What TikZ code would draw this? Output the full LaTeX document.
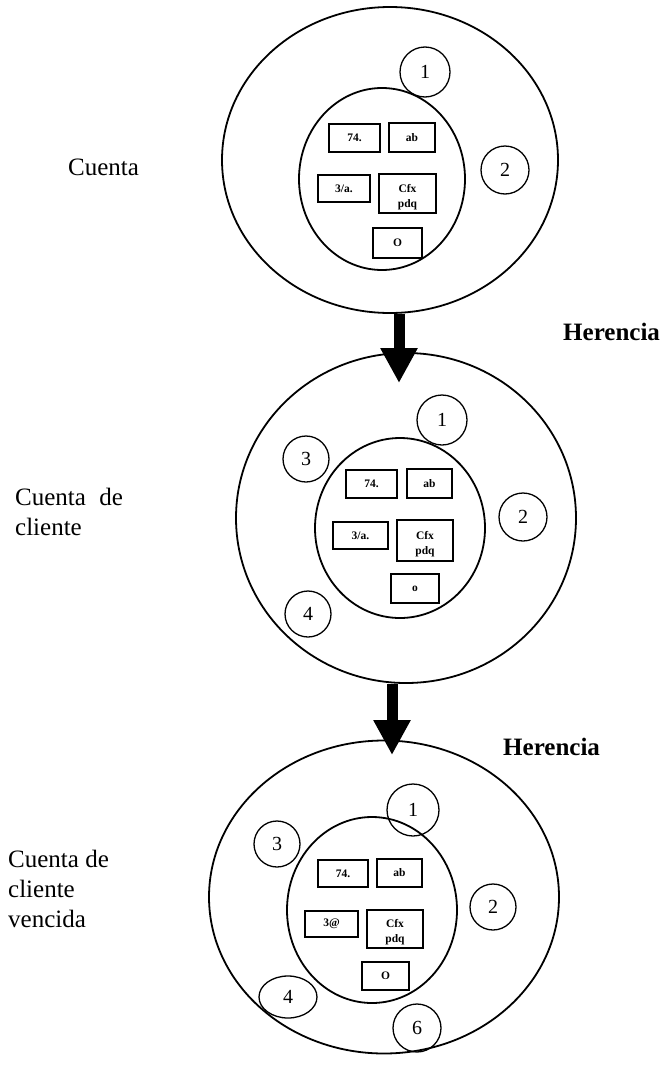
\documentclass[tikz,border=0pt]{standalone}
\usepackage{fontspec}
\setmainfont{Liberation Serif}
\usetikzlibrary{shapes.geometric,arrows.meta}
\begin{document}
\begin{tikzpicture}[x=1pt,y=-1pt,
  ring/.style={draw, ellipse, line width=1.8pt, inner sep=0pt},
  num/.style={draw, line width=1.3pt, inner sep=0pt, font=\fontsize{20}{24}\selectfont},
  numc/.style={num, circle},
  nume/.style={num, ellipse},
  cell/.style={draw, rectangle, line width=2pt, inner sep=0pt, font=\fontsize{11.5}{12}\selectfont\bfseries, align=center},
  lbl/.style={inner sep=0pt, font=\fontsize{25}{30}\selectfont, align=left},
  her/.style={inner sep=0pt, font=\fontsize{25}{30}\selectfont\bfseries},
  inh/.style={line width=11pt, -{Triangle[width=35pt,length=35pt]}}
]
\fill[white] (0,0) rectangle (665,1071);
\useasboundingbox (0,0) rectangle (665,1071);

% ---------- group 1 ----------
\node[ring, minimum width=336pt, minimum height=306pt] (c1) at (390,160) {};
\node[ring, minimum width=166pt, minimum height=182pt] (i1) at (382,179) {};
\node[numc, minimum size=50pt] (c1n1) at (425,72) {1};
\node[numc, minimum size=48pt] (c1n2) at (505,170) {2};
\node[cell, minimum width=51pt, minimum height=28pt] (c1b1) at (354.5,138) {74.};
\node[cell, minimum width=46pt, minimum height=29pt] (c1b2) at (412,137.5) {ab};
\node[cell, minimum width=52pt, minimum height=27pt] (c1b3) at (344,188.5) {3/a.};
\node[cell, minimum width=57pt, minimum height=39pt] (c1b4) at (407.5,193.5) {\rule{0pt}{15pt}Cfx\\[3pt]pdq};
\node[cell, minimum width=49pt, minimum height=30pt] (c1b5) at (397.5,243) {O};
\node[lbl, anchor=base west] (t1) at (68,175) {Cuenta};

% ---------- group 2 ----------
\node[ring, minimum width=340pt, minimum height=330pt] (c2) at (406,518) {};
\node[ring, minimum width=170pt, minimum height=180pt] (i2) at (400,528) {};
\node[numc, minimum size=50pt] (c2n1) at (442,420) {1};
\node[numc, minimum size=46pt] (c2n3) at (306,459) {3};
\node[numc, minimum size=48pt] (c2n2) at (523,517) {2};
\node[numc, minimum size=46pt] (c2n4) at (308,614) {4};
\node[cell, minimum width=51pt, minimum height=28pt] (c2b1) at (371.5,484) {74.};
\node[cell, minimum width=45pt, minimum height=29pt] (c2b2) at (429.5,483.5) {ab};
\node[cell, minimum width=55pt, minimum height=27pt] (c2b3) at (360.5,535.5) {3/a.};
\node[cell, minimum width=56pt, minimum height=41pt] (c2b4) at (425,540.5) {\rule{0pt}{15pt}Cfx\\[3pt]pdq};
\node[cell, minimum width=48pt, minimum height=29pt] (c2b5) at (415,588.5) {o};
\node[lbl, anchor=north west] (t2) at (15,488) {Cuenta\hspace{7pt} de\\cliente};

% ---------- group 3 ----------
\node[ring, minimum width=350pt, minimum height=313pt] (c3) at (384,897) {};
\node[ring, minimum width=170pt, minimum height=186pt] (i3) at (372,910) {};
\node[numc, minimum size=52pt] (c3n1) at (413,810) {1};
\node[numc, minimum size=46pt] (c3n3) at (277,844) {3};
\node[numc, minimum size=46pt] (c3n2) at (493,907) {2};
\node[nume, minimum width=58pt, minimum height=42pt] (c3n4) at (288,997) {4};
\node[numc, minimum size=48pt] (c3n6) at (417,1028) {6};
\node[cell, minimum width=50pt, minimum height=27pt] (c3b1) at (343,873.5) {74.};
\node[cell, minimum width=45pt, minimum height=28pt] (c3b2) at (399.5,873) {ab};
\node[cell, minimum width=53pt, minimum height=26pt] (c3b3) at (331.5,924) {3@};
\node[cell, minimum width=56pt, minimum height=38pt] (c3b4) at (395,929) {\rule{0pt}{15pt}Cfx\\[3pt]pdq};
\node[cell, minimum width=47pt, minimum height=28pt] (c3b5) at (385.5,976) {O};
\node[lbl, anchor=north west] (t3) at (8,850) {Cuenta de\\cliente\\vencida};

% ---------- inheritance arrows ----------
\coordinate (tip1) at (399,383);
\coordinate (tip2) at (392,755);
\draw[inh] (c1.south -| tip1) -- (tip1);
\draw[inh] (c2.south -| tip2) -- (tip2);
\node[her, anchor=base west] (h1) at (563,340) {Herencia};
\node[her, anchor=base west] (h2) at (503,755) {Herencia};
\end{tikzpicture}
\end{document}
